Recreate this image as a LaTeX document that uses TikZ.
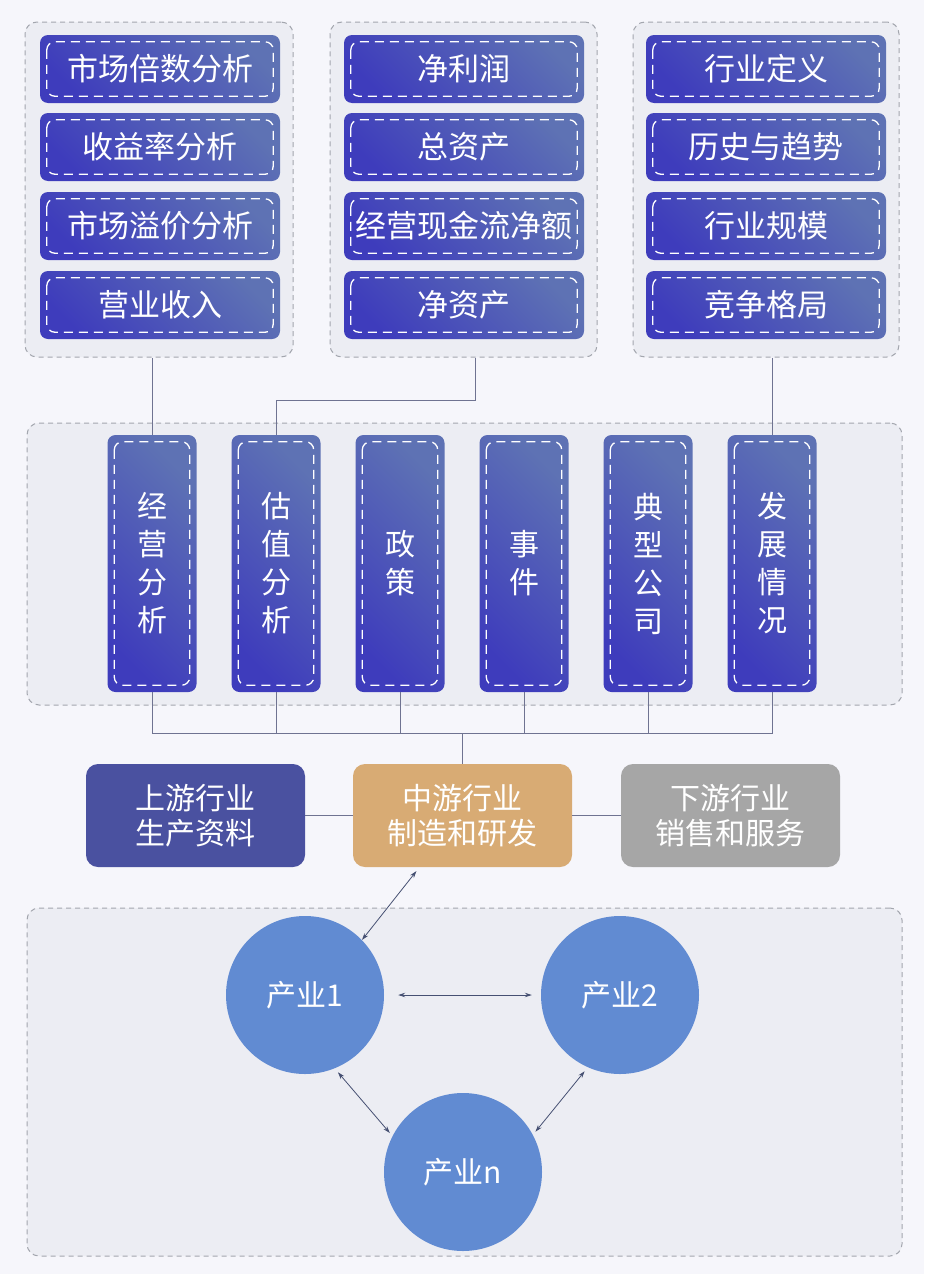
\documentclass[tikz,border=0pt]{standalone}
\usepackage{fontspec}
\setmainfont{Noto Sans CJK SC}
\usetikzlibrary{arrows.meta}

\definecolor{pagebg}{HTML}{F6F6FB}
\definecolor{panelfill}{HTML}{ECEDF3}
\definecolor{panelline}{HTML}{A3A6AE}
\definecolor{itemdark}{HTML}{3E3CBC}
\definecolor{itemlight}{HTML}{5E72B4}
\definecolor{upcolor}{HTML}{4A51A0}
\definecolor{midcolor}{HTML}{D8AB74}
\definecolor{downcolor}{HTML}{A6A6A6}
\definecolor{circlecolor}{HTML}{618BD2}
\definecolor{wirecolor}{HTML}{6F7391}
\definecolor{linkcolor}{HTML}{465072}

\begin{document}
\begin{tikzpicture}[
    x=1pt, y=-1pt,
    panel/.style={rectangle, draw=panelline, fill=panelfill, dash pattern=on 5pt off 4pt, line width=1pt, rounded corners=12pt},
    item/.style={rectangle, rounded corners=8pt, top color=itemlight, bottom color=itemdark, shading angle=-45, text=white, minimum width=240pt, minimum height=68pt, font=\fontsize{31}{36}\selectfont},
    vitem/.style={item, minimum width=89pt, minimum height=257pt, align=center, font=\fontsize{30}{38}\selectfont},
    innerdash/.style={draw=white, line width=1.3pt, dash pattern=on 9pt off 6pt, rounded corners=8pt},
    stage/.style={rectangle, rounded corners=12pt, text=white, minimum width=219pt, minimum height=103pt, align=center, font=\fontsize{30}{35}\selectfont},
    sector/.style={circle, fill=circlecolor, text=white, minimum size=158pt, inner sep=0pt, font=\fontsize{30}{34}\selectfont},
    wire/.style={draw=wirecolor, line width=1pt},
    link/.style={<->, >={Stealth[length=7pt, width=4.5pt]}, draw=linkcolor, line width=0.8pt}
]

\path[use as bounding box, fill=pagebg] (0,0) rectangle (924,1274);

% Top groups
\node[panel, minimum width=268pt, minimum height=335pt] (g1) at (159,189.5) {};
\node[panel, minimum width=267pt, minimum height=335pt] (g2) at (463.5,189.5) {};
\node[panel, minimum width=266pt, minimum height=335pt] (g3) at (766,189.5) {};

\node[item] (a1) at (160,69) {市场倍数分析};
\node[item] (a2) at (160,147) {收益率分析};
\node[item] (a3) at (160,226) {市场溢价分析};
\node[item] (a4) at (160,305) {营业收入};

\node[item] (b1) at (464,69) {净利润};
\node[item] (b2) at (464,147) {总资产};
\node[item] (b3) at (464,226) {经营现金流净额};
\node[item] (b4) at (464,305) {净资产};

\node[item] (c1) at (766,69) {行业定义};
\node[item] (c2) at (766,147) {历史与趋势};
\node[item] (c3) at (766,226) {行业规模};
\node[item] (c4) at (766,305) {竞争格局};

% Middle panel
\node[panel, minimum width=875pt, minimum height=282pt] (factors) at (464.5,564) {};

\node[vitem] (v1) at (152,563.5) {经\\营\\分\\析};
\node[vitem] (v2) at (276,563.5) {估\\值\\分\\析};
\node[vitem] (v3) at (400,563.5) {政\\策};
\node[vitem] (v4) at (524,563.5) {事\\件};
\node[vitem] (v5) at (648,563.5) {典\\型\\公\\司};
\node[vitem] (v6) at (772,563.5) {发\\展\\情\\况};

\foreach \n in {a1,a2,a3,a4,b1,b2,b3,b4,c1,c2,c3,c4,v1,v2,v3,v4,v5,v6}
    \draw[innerdash] ([shift={(7pt,-7pt)}]\n.north west) rectangle ([shift={(-7pt,7pt)}]\n.south east);

\draw[wire] (g1.south -| v1.north) -- (v1.north);
\draw[wire] ([xshift=12pt]g2.south) -- ++(0,43) -| (v2.north);
\draw[wire] (g3.south -| v6.north) -- (v6.north);

% Industry chain
\node[stage, fill=upcolor] (up) at (195.5,815.5) {上游行业\\生产资料};
\node[stage, fill=midcolor] (mid) at (462.5,815.5) {中游行业\\制造和研发};
\node[stage, fill=downcolor] (down) at (730.5,815.5) {下游行业\\销售和服务};

\coordinate (bus) at (462.5,733);
\foreach \n in {v1,v2,v3,v4,v5,v6}
    \draw[wire] (\n.south) |- (bus);
\draw[wire] (bus) -- (mid.north);
\draw[wire] (up) -- (mid);
\draw[wire] (mid) -- (down);

% Sectors
\node[panel, minimum width=875pt, minimum height=348pt] (sectors) at (464.5,1082) {};

\node[sector] (p1) at (305,995) {产业1};
\node[sector] (p2) at (620,995) {产业2};
\node[sector] (pn) at (463,1172) {产业n};

\draw[link, shorten <=5pt] ([xshift=-43pt]mid.south) -- (p1.44);
\draw[link, shorten <=14pt, shorten >=9pt] (p1) -- (p2);
\draw[link, shorten <=5pt, shorten >=4pt] (p1.292) -- (pn.153);
\draw[link, shorten <=5pt, shorten >=4pt] (p2.246) -- (pn.28);

\end{tikzpicture}
\end{document}
